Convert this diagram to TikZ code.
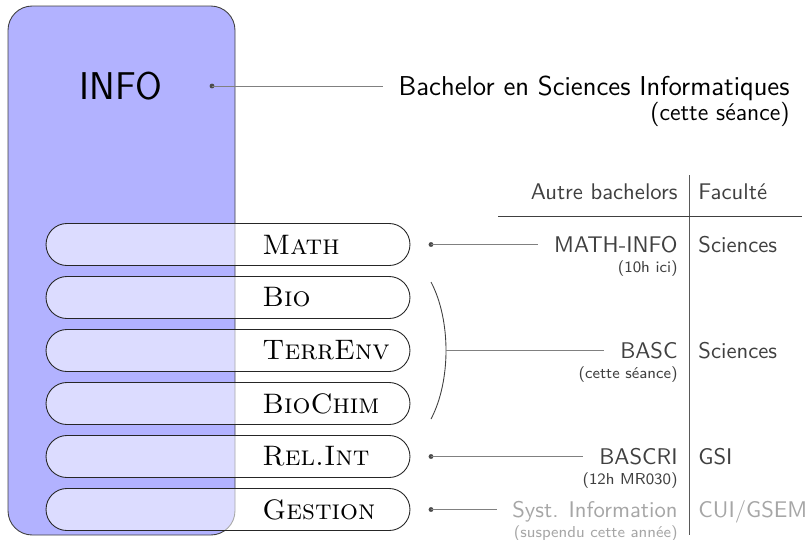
\documentclass[tikz,border=0pt]{standalone}
\tikzset{
  pill/.style={draw=black!85, fill=white, fill opacity=0.55, rounded corners=9.5pt,
    minimum width=165.4pt, minimum height=19.1pt, inner sep=0pt},
  pilltext/.style={anchor=west, inner sep=0pt, font=\fontsize{12.8}{15}\selectfont\scshape},
  prog/.style={anchor=east, inner sep=0pt, text height=7pt, text depth=0pt,
    text=black!75, font=\sffamily\fontsize{10.3}{12}\selectfont},
  fac/.style={prog, anchor=west},
  sub/.style={anchor=north east, inner sep=0pt, text=black!75,
    font=\sffamily\fontsize{7.2}{9}\selectfont},
  dot/.style={circle, fill=black!70, inner sep=0pt, minimum size=2.2pt},
  link/.style={black!50, shorten >=7pt},
}
\begin{document}
\begin{tikzpicture}[x=0.4545pt, y=-0.4545pt]
    \useasboundingbox (0,0) rectangle (807,539);
    % info box
    \draw[rounded corners=11pt, fill=blue!30, draw=black!75] (8,6) rectangle (235,535);
    \node[font=\sffamily\fontsize{17.6}{21}\selectfont] (info) at (121,86) {INFO};
    % options
    \foreach \name/\txt/\y in {math/Math/244.5, bio/Bio/297.5, terrenv/TerrEnv/350.5,
        biochim/BioChim/403.5, relint/Rel.Int/456.5, gestion/Gestion/509.5}
    {
        \node[pill] (\name) at (228,\y) {};
        \node[pilltext] (\name-txt) at (262,\y) {\txt};
    }
    % bachelor info
    \node[dot] (infodot) at (212,86) {};
    \node[anchor=east, inner sep=0pt, text height=8.8pt, text depth=0pt,
        font=\sffamily\fontsize{12.4}{15}\selectfont] (bsi) at (790,86) {Bachelor en Sciences Informatiques};
    \node[anchor=north east, inner sep=0pt, font=\sffamily\fontsize{11}{13}\selectfont] (bsi-sub)
        at ([yshift=-2.5pt]bsi.south east) {(cette séance)};
    \draw[link] (infodot.center) -- (bsi.west);
    % table
    \draw[black!65] (689,175) -- (689,535);
    \draw[black!75] (498,216) -- (802,216);
    \node[prog] (autre) at (678,192) {Autre bachelors};
    \node[fac] (faculte) at (698,192) {Faculté};
    % math-info
    \node[dot] (mathdot) at (431,244.5) {};
    \node[prog] (mathinfo) at (678,244.5) {MATH-INFO};
    \node[sub] (mathinfo-sub) at ([yshift=-3.5pt]mathinfo.south east) {(10h ici)};
    \node[fac] (sci1) at (698,244.5) {Sciences};
    \draw[link] (mathdot.center) -- (mathinfo.west);
    % basc
    \draw[black!75] (431,282) .. controls (451,320) and (451,381) .. (431,419);
    \coordinate (brace) at (446,350.5);
    \node[prog] (basc) at (678,350.5) {BASC};
    \node[sub] (basc-sub) at ([yshift=-3.5pt]basc.south east) {(cette séance)};
    \node[fac] (sci2) at (698,350.5) {Sciences};
    \draw[link] (brace) -- (basc.west);
    % bascri
    \node[dot] (reldot) at (431,456.5) {};
    \node[prog] (bascri) at (678,456.5) {BASCRI};
    \node[sub] (bascri-sub) at ([yshift=-3.5pt]bascri.south east) {(12h MR030)};
    \node[fac] (gsi) at (698,456.5) {GSI};
    \draw[link] (reldot.center) -- (bascri.west);
    % syst. information
    \node[dot] (gestdot) at (431,509.5) {};
    \node[prog, text=black!35] (syst) at (678,509.5) {Syst. Information};
    \node[sub, text=black!35] (syst-sub) at ([yshift=-3.5pt]syst.south east) {(suspendu cette année)};
    \node[fac, text=black!35] (cui) at (698,509.5) {CUI/GSEM};
    \draw[link] (gestdot.center) -- (syst.west);
\end{tikzpicture}
\end{document}
